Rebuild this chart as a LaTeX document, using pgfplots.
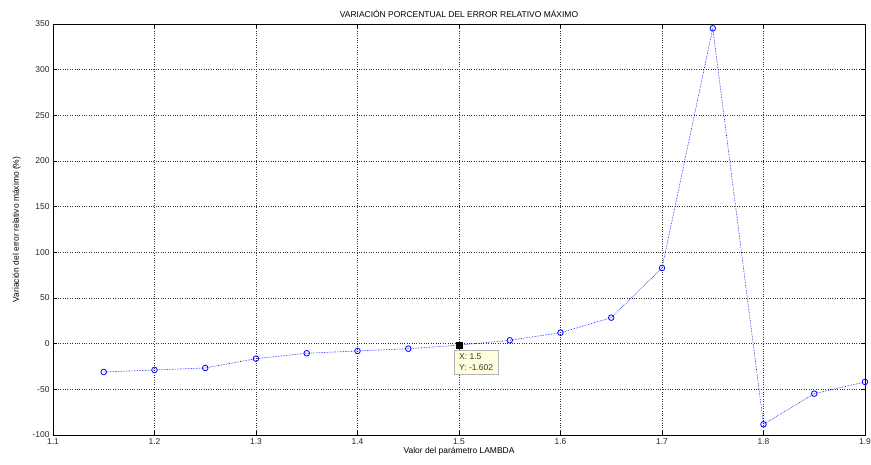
\documentclass[border=0pt]{standalone}
\usepackage{pgfplots}
\pgfplotsset{compat=1.18}
\usepackage{fontspec}
\setmainfont{Liberation Sans}
\begin{document}
\begin{tikzpicture}
\begin{axis}[
  name=ax,
  scale only axis,
  width=812bp, height=411bp,
  xmin=1.1, xmax=1.9, ymin=-100, ymax=350,
  xtick={1.1,1.2,1.3,1.4,1.5,1.6,1.7,1.8,1.9},
  ytick={-100,-50,0,50,100,150,200,250,300,350},
  xticklabel style={/pgf/number format/fixed,/pgf/number format/precision=1},
  /pgf/number format/assume math mode=true,
  tick align=inside,
  tick pos=both,
  major tick length=4bp,
  tick style={black, line width=0.5pt},
  grid=major,
  grid style={black!80, dotted, line width=0.4pt},
  axis line style={black, line width=0.8pt},
  font=\fontsize{8.5}{10}\selectfont,
  ticklabel style={font=\fontsize{8.5}{10}\selectfont, text=black!85},
  title={VARIACIÓN PORCENTUAL DEL ERROR RELATIVO MÁXIMO},
  title style={font=\fontsize{8.5}{10}\selectfont, yshift=-3bp},
  xlabel={Valor del parámetro LAMBDA},
  ylabel={Variación del error relativo máximo (\%)},
  xlabel style={font=\fontsize{8.5}{10}\selectfont, yshift=4bp},
  ylabel style={font=\fontsize{8.5}{10}\selectfont, yshift=5bp},
]
\node[anchor=north west, draw=black!30, fill={rgb,255:red,255;green,255;blue,222}, font=\fontsize{8.5}{11}\selectfont, align=left, inner xsep=5bp, inner ysep=3.5bp, text=black!80, xshift=-5bp, yshift=-5bp] at (axis cs:1.5,-1.602) {X: 1.5\\Y: -1.602};
\addplot[blue, densely dotted, line width=0.6pt, mark=o, mark size=2.8bp, mark options={solid, line width=0.8pt}] coordinates {
(1.15,-31.0) (1.20,-28.8) (1.25,-26.6) (1.30,-16.4) (1.35,-10.5)
(1.40,-8.0) (1.45,-5.5) (1.50,-1.602) (1.55,3.7) (1.60,12.0)
(1.65,28.5) (1.70,82.9) (1.75,345.3) (1.80,-88.3) (1.85,-54.7) (1.90,-41.9)
};
\addplot[black, mark=square*, mark size=3bp, only marks] coordinates {(1.5,-1.602)};
\end{axis}
\pgfresetboundingbox
\path ([shift={(-53bp,-29bp)}]ax.south west) rectangle ([shift={(6bp,24bp)}]ax.north east);
\end{tikzpicture}
\end{document}
